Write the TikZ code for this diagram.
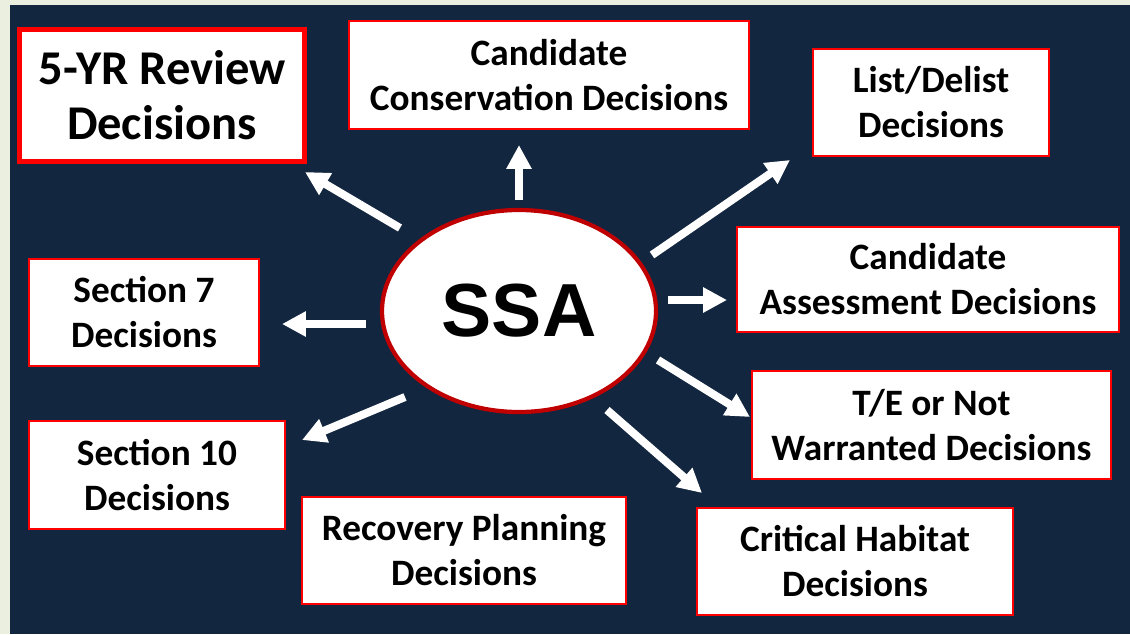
\documentclass[tikz,border=0pt]{standalone}
\usepackage{fontspec}
\setmainfont{Carlito}
\newfontfamily\ssafont{Liberation Sans}
\usepackage{tikz}
\usetikzlibrary{arrows.meta, positioning, shapes.geometric}
\definecolor{navy}{HTML}{12263F}
\definecolor{paper}{HTML}{EBEFDF}
\definecolor{boxred}{HTML}{FF0000}
\definecolor{ringred}{HTML}{C00000}
\newcommand{\pxu}{0.025cm}

\begin{document}
\begin{tikzpicture}[x=\pxu, y=-\pxu,
  box/.style={draw=boxred, line width=1.8pt, fill=white, rectangle, inner sep=0pt,
    align=center, font=\fontsize{26.5}{32}\selectfont\bfseries},
  ray/.style={draw=white, line width=5.7pt, -{Triangle[length=17pt, width=17pt]}}]
  % Background
  \fill[paper] (0,0) rectangle (1130,634);
  \fill[navy] (10,5) rectangle (1130,634);

  % Centre
  \node[ellipse, draw=ringred, line width=3pt, fill=white, inner sep=0pt,
    minimum width=274*\pxu, minimum height=202*\pxu,
    font=\fontsize{53.5}{60}\selectfont\ssafont\bfseries] (ssa) at (519,311) {SSA};

  % Decisions
  \node[box, draw=red, line width=3.6pt, minimum width=285*\pxu, minimum height=132*\pxu,
    font=\fontsize{34.5}{39}\selectfont\bfseries] (five) at (162,95.5) {5-YR Review\\Decisions};
  \node[box, minimum width=400*\pxu, minimum height=108*\pxu] (cancons) at (549,75) {Candidate\\Conservation Decisions};
  \node[box, minimum width=236*\pxu, minimum height=107*\pxu] (list) at (931,102.5) {List/Delist\\Decisions};
  \node[box, minimum width=382*\pxu, minimum height=105*\pxu] (canass) at (928,279.5) {Candidate\\Assessment Decisions};
  \node[box, minimum width=230*\pxu, minimum height=107*\pxu] (sec7) at (144,312.5) {Section 7\\Decisions};
  \node[box, minimum width=359*\pxu, minimum height=108*\pxu] (te) at (931.5,425) {T/E or Not\\Warranted Decisions};
  \node[box, minimum width=256*\pxu, minimum height=108*\pxu] (sec10) at (157,475) {Section 10\\Decisions};
  \node[box, minimum width=324*\pxu, minimum height=107*\pxu] (recov) at (464,550.5) {Recovery Planning\\Decisions};
  \node[box, minimum width=316*\pxu, minimum height=107*\pxu] (crit) at (855,561.5) {Critical Habitat\\Decisions};

  % Ray ends
  \coordinate (five-t) at (400,228);   \coordinate (five-h) at (305,172);
  \coordinate (cancons-t) at (519,200); \coordinate (cancons-h) at (519,145);
  \coordinate (list-t) at (652,255);   \coordinate (list-h) at (790,160);
  \coordinate (canass-t) at (668,300); \coordinate (canass-h) at (727,300);
  \coordinate (te-t) at (658,360);     \coordinate (te-h) at (750,417);
  \coordinate (crit-t) at (607,410);   \coordinate (crit-h) at (702,493);
  \coordinate (sec10-t) at (405,397);  \coordinate (sec10-h) at (302,440);
  \coordinate (sec7-t) at (366,324);   \coordinate (sec7-h) at (282,324);

  % Rays
  \foreach \d in {five, cancons, list, canass, te, crit, sec10, sec7}
    \draw[ray] (\d-t) -- (\d-h);
\end{tikzpicture}
\end{document}
